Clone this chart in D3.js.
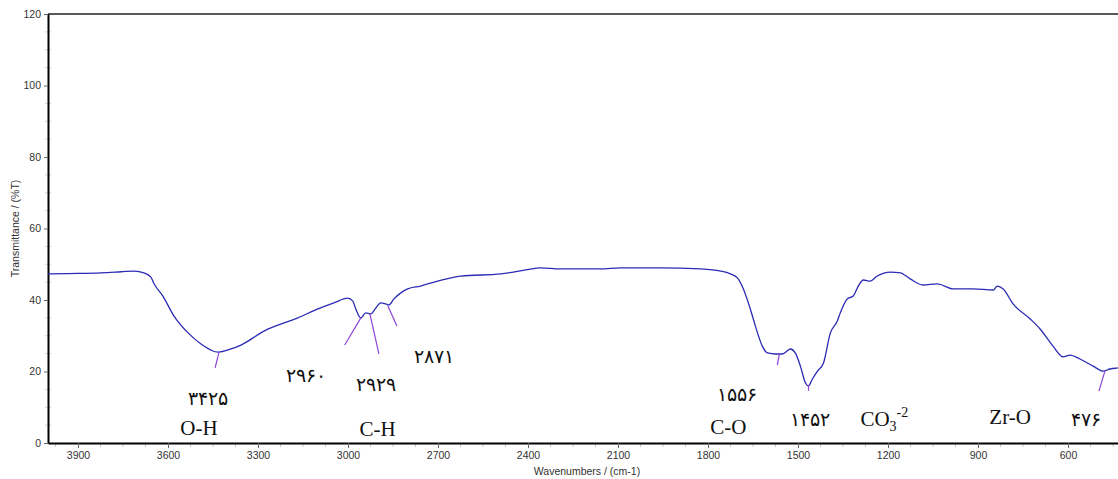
<!DOCTYPE html>
<html>
<head>
<meta charset="utf-8">
<script src="https://cdn.jsdelivr.net/npm/d3@7"></script>
<style>
    body { margin: 0; background: #fff; overflow: hidden; }
    #ir-plot svg { display: block; }
    .tick text { font-family: "Liberation Sans", Arial, sans-serif; font-size: 10.5px; fill: #333; }
    .axislabel { font-family: "Liberation Sans", Arial, sans-serif; font-size: 10.5px; fill: #333; }
    .band { font-family: "Liberation Serif", "Times New Roman", serif; font-size: 21px; fill: #111; }
    .peak { font-family: "DejaVu Sans", serif; font-weight: 200; font-size: 19px; fill: #111; }
</style>
</head>
<body>
<div id="ir-plot"></div>
<script>
// spectrum (wavenumber cm-1, %T)
const wavenumbers = [4000, 3933, 3823, 3756, 3713, 3680, 3657, 3647, 3617, 3580, 3533, 3490, 3433, 3390, 3357,
    3280, 3167, 3100, 3047, 3001, 2984, 2974, 2957, 2941, 2924, 2907, 2891, 2874, 2864, 2847, 2824, 2801, 2758,
    2701, 2624, 2491, 2408, 2358, 2292, 2158, 2092, 1958, 1825, 1758, 1725, 1702, 1682, 1659, 1642, 1619, 1602,
    1575, 1552, 1525, 1509, 1492, 1475, 1465, 1452, 1435, 1415, 1392, 1369, 1359, 1336, 1316, 1299, 1282, 1259,
    1236, 1192, 1159, 1126, 1083, 1036, 983, 916, 849, 836, 816, 783, 726, 693, 650, 616, 593, 560, 516, 483,
    460, 433, 400];
const transmittance = [47.3, 47.4, 47.6, 47.9, 48.1, 47.6, 46.4, 44.6, 41.1, 35.5, 30.8, 27.7, 25.4, 26.3, 27.4,
    31.3, 35, 37.5, 39.2, 40.5, 39.7, 37.5, 35, 36.4, 36.1, 37.8, 39.2, 38.9, 38.6, 40.3, 42, 43.1, 43.9,
    45.3, 46.7, 47.3, 48.4, 49, 48.7, 48.7, 49, 49, 48.7, 48.1, 47.3, 46.2, 43.1, 37.5, 32.7, 27.1, 25.2,
    24.9, 24.9, 26.3, 25.2, 21.5, 16.8, 16, 17.9, 20.1, 22.4, 30.8, 34.1, 36.4, 40.3, 41.1, 43.9, 45.6, 45.3,
    46.7, 47.8, 47.6, 45.9, 44.2, 44.5, 43.1, 43.1, 42.8, 43.9, 43.1, 38.9, 34.7, 31.9, 27.1, 24.1, 24.6, 23.5,
    21.5, 20.1, 20.7, 21, 21.4];

// peak pick marker lines: [wn at curve, %T at curve, wn at end, %T at end]
const peakMarkers = [
    [3430, 25.4, 3443, 21],
    [2957, 35, 3011, 27.4],
    [2927, 36.1, 2897, 24.9],
    [2867, 38.3, 2837, 32.7],
    [1562, 24.9, 1569, 21.8],
    [1465, 16.2, 1465, 14.6],
    [477, 20.1, 497, 14.5]
];

// peak numbers (persian digits) and their spots
const peakLabels = ["۳۴۲۵", "۲۹۶۰", "۲۹۲۹", "۲۸۷۱", "۱۵۵۶", "۱۴۵۲", "۴۷۶"];
const peakLabelWn = [3467, 3140, 2907, 2714, 1705, 1459, 540];
const peakLabelT = [10.6, 17.1, 14.5, 22.4, 11.7, 4.8, 4.8];

// band assignments
const bandLabels = ["O-H", "C-H", "C-O", "Zr-O"];
const bandWn = [3497, 2901, 1732, 793];
const bandT = [2.2, 2.0, 2.5, 5.3];

const xTicks = [3900, 3600, 3300, 3000, 2700, 2400, 2100, 1800, 1500, 1200, 900, 600];
const yTicks = [0, 20, 40, 60, 80, 100, 120];

const width = 1118, height = 479;
const plotLeft = 48, plotTop = 14, plotBottom = 443;

const svg = d3.select("#ir-plot")
    .append("svg")
    .attr("width", width)
    .attr("height", height);

const x = d3.scaleLinear().domain([4000, 400]).range([plotLeft, 1128]);
const y = d3.scaleLinear().domain([0, 120]).range([plotBottom, plotTop]);

// minor ticks
const xMinor = d3.range(3975, 400, -75).filter(v => v % 300 !== 0);
svg.append("g")
    .selectAll("line")
    .data(xMinor)
    .enter().append("line")
    .attr("x1", d => x(d)).attr("x2", d => x(d))
    .attr("y1", plotBottom).attr("y2", plotBottom + 4)
    .attr("stroke", "#c8c8c8");

const yMinor = d3.range(5, 120, 5).filter(v => v % 20 !== 0);
svg.append("g")
    .selectAll("line")
    .data(yMinor)
    .enter().append("line")
    .attr("x1", plotLeft - 3).attr("x2", plotLeft + 3)
    .attr("y1", d => y(d)).attr("y2", d => y(d))
    .attr("stroke", "#d4d4d4");

// top frame line
svg.append("line")
    .attr("x1", plotLeft).attr("x2", width)
    .attr("y1", plotTop).attr("y2", plotTop)
    .attr("stroke", "#222")
    .attr("stroke-width", 1.5);

// axes
const xAxis = svg.append("g")
    .attr("class", "x-axis")
    .attr("transform", `translate(0, ${plotBottom})`)
    .call(d3.axisBottom(x).tickValues(xTicks).tickFormat(d3.format("d"))
        .tickSize(5).tickSizeOuter(0).tickPadding(4));
xAxis.select(".domain").attr("stroke", "#000").attr("stroke-width", 2);
xAxis.selectAll(".tick line").attr("stroke", "#666");

const yAxis = svg.append("g")
    .attr("class", "y-axis")
    .attr("transform", `translate(${plotLeft}, 0)`)
    .call(d3.axisLeft(y).tickValues(yTicks).tickFormat(d3.format("d"))
        .tickSize(4).tickSizeOuter(0).tickPadding(3));
yAxis.select(".domain").attr("stroke", "#000").attr("stroke-width", 2);
yAxis.selectAll(".tick line").attr("stroke", "#666");

// axis labels
svg.append("text")
    .attr("class", "axislabel")
    .attr("x", 587)
    .attr("y", 475)
    .style("text-anchor", "middle")
    .text("Wavenumbers / (cm-1)");

svg.append("text")
    .attr("class", "axislabel")
    .attr("transform", `translate(19, ${y(60)}) rotate(-90)`)
    .style("text-anchor", "middle")
    .text("Transmittance / (%T)");

// spectrum
const spectrum = wavenumbers.map((w, i) => ({ w: w, t: transmittance[i] }));
const line = d3.line()
    .x(d => x(d.w))
    .y(d => y(d.t))
    .curve(d3.curveMonotoneX);

svg.append("path")
    .datum(spectrum)
    .attr("fill", "none")
    .attr("stroke", "#2b2bb5")
    .attr("stroke-width", 1.3)
    .attr("d", line);

// peak pick lines
svg.append("g")
    .selectAll("line")
    .data(peakMarkers)
    .enter().append("line")
    .attr("x1", d => x(d[0])).attr("y1", d => y(d[1]))
    .attr("x2", d => x(d[2])).attr("y2", d => y(d[3]))
    .attr("stroke", "#8e44d6")
    .attr("stroke-width", 1.2);

// peak numbers
svg.append("g")
    .selectAll("text")
    .data(peakLabels)
    .enter().append("text")
    .attr("class", "peak")
    .attr("x", (d, i) => x(peakLabelWn[i]))
    .attr("y", (d, i) => y(peakLabelT[i]))
    .style("text-anchor", "middle")
    .text(d => d);

// band names
svg.append("g")
    .selectAll("text")
    .data(bandLabels)
    .enter().append("text")
    .attr("class", "band")
    .attr("x", (d, i) => x(bandWn[i]))
    .attr("y", (d, i) => y(bandT[i]))
    .style("text-anchor", "middle")
    .text(d => d);

// carbonate with sub/superscript
const co3 = svg.append("text")
    .attr("class", "band")
    .attr("x", x(1292))
    .attr("y", y(4.8));
co3.append("tspan").text("CO");
co3.append("tspan").attr("dy", 5).style("font-size", "14px").text("3");
co3.append("tspan").attr("dy", -14).style("font-size", "14px").text("-2");
</script>
</body>
</html>
